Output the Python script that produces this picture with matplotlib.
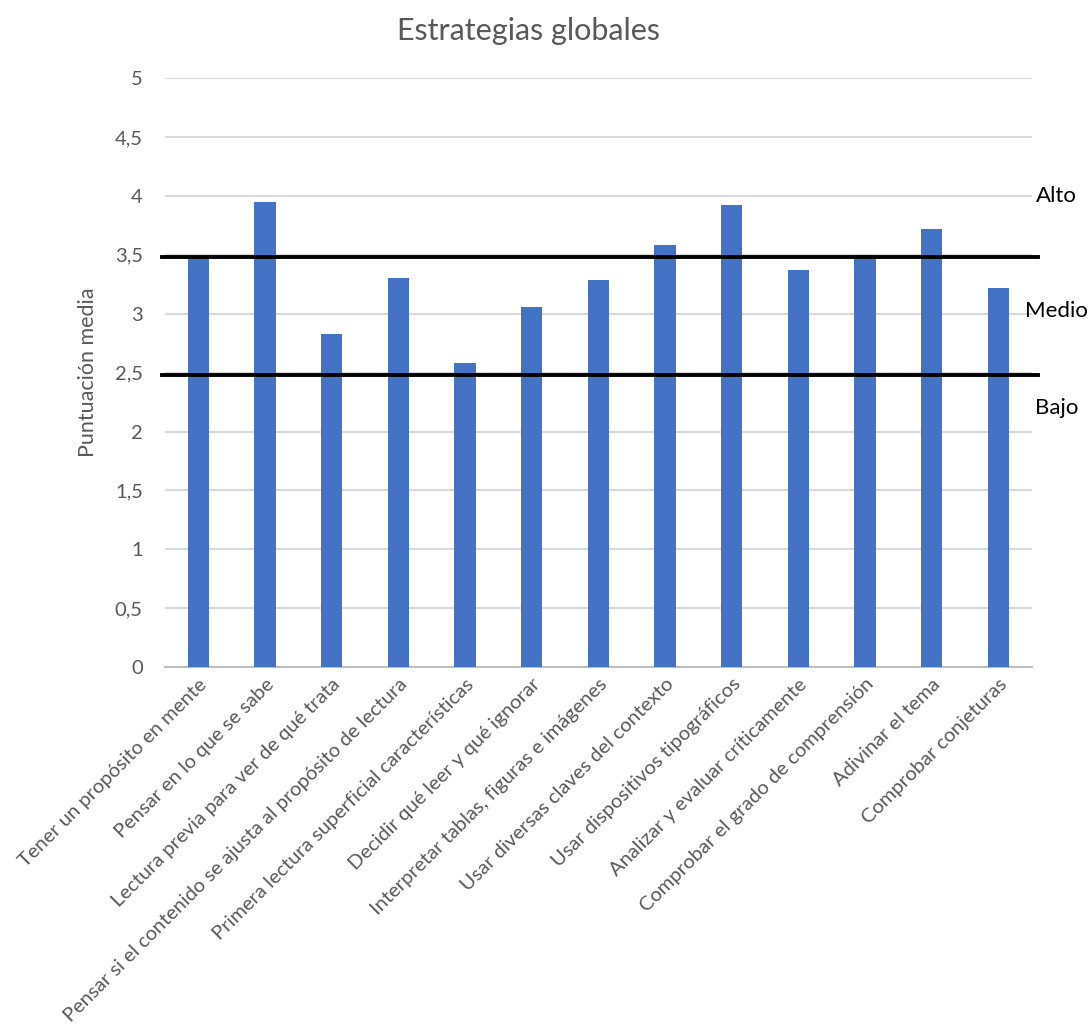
import matplotlib
matplotlib.use("Agg")
import matplotlib.pyplot as plt
from matplotlib.ticker import FuncFormatter

plt.rcParams['font.family'] = ['Lato', 'DejaVu Sans']

estrategias = [
    "Tener un propósito en mente",
    "Pensar en lo que se sabe",
    "Lectura previa para ver de qué trata",
    "Pensar si el contenido se ajusta al propósito de lectura",
    "Primera lectura superficial características",
    "Decidir qué leer y qué ignorar",
    "Interpretar tablas, figuras e imágenes",
    "Usar diversas claves del contexto",
    "Usar dispositivos tipográficos",
    "Analizar y evaluar críticamente",
    "Comprobar el grado de comprensión",
    "Adivinar el tema",
    "Comprobar conjeturas",
]
medias = [3.48, 3.95, 2.83, 3.30, 2.58, 3.06, 3.29, 3.58, 3.92, 3.37, 3.50, 3.72, 3.22]
limites = [3.48, 2.48]
niveles = ["Alto", "Medio", "Bajo"]
niveles_y = [4.0, 3.02, 2.2]

GRIS = "#595959"

fig = plt.figure(figsize=(10.89, 10.28), dpi=100)
ax = fig.add_axes([0.1515, 0.351, 0.796, 0.573])

x = range(len(estrategias))
ax.bar(x, medias, width=0.32, color="#4472C4", zorder=3)
ax.set_xlim(-0.5, len(estrategias) - 0.5)
ax.set_ylim(0, 5)
ax.set_yticks([i * 0.5 for i in range(11)])
ax.yaxis.set_major_formatter(FuncFormatter(lambda v, p: ("%g" % v).replace(".", ",")))
ax.grid(axis="y", color="#d9d9d9", linewidth=1.5, zorder=0)
for s in ["top", "right", "left"]:
    ax.spines[s].set_visible(False)
ax.spines["bottom"].set_color("#bfbfbf")
ax.spines["bottom"].set_linewidth(1.5)
ax.tick_params(axis="both", length=0, colors=GRIS, labelsize=14.5)
ax.tick_params(axis="y", pad=16)
ax.tick_params(axis="x", pad=6)
ax.set_xticks(list(x))
ax.set_xticklabels(estrategias, rotation=45, ha="right", rotation_mode="anchor")
ax.set_ylabel("Puntuación media", color=GRIS, fontsize=15.5, labelpad=12)
fig.text(0.485, 0.97, "Estrategias globales", color=GRIS, fontsize=22,
         ha="center", va="center")

for lim in limites:
    ax.plot([-0.55, 12.6], [lim, lim], color="black", linewidth=2.8,
            zorder=4, clip_on=False)
for txt, yy in zip(niveles, niveles_y):
    ax.text(12.87, yy, txt, fontsize=16, color="black", ha="center", va="center")

fig.savefig("out.png", dpi=100)
